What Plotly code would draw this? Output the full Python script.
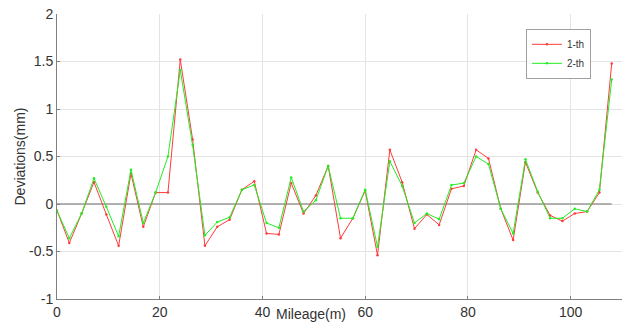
import plotly.graph_objects as go

mileage = [0, 2.4, 4.8, 7.2, 9.6, 12.0, 14.4, 16.8, 19.2, 21.6,
           24.0, 26.4, 28.8, 31.2, 33.6, 36.0, 38.4, 40.8, 43.2, 45.6,
           48.0, 50.4, 52.8, 55.2, 57.6, 60.0, 62.4, 64.8, 67.2, 69.6,
           72.0, 74.4, 76.8, 79.2, 81.6, 84.0, 86.4, 88.8, 91.2, 93.6,
           96.0, 98.4, 100.8, 103.2, 105.6, 108.0]

dev_1th = [-0.07, -0.41, -0.10, 0.23, -0.11, -0.44, 0.32, -0.24, 0.12, 0.12,
           1.52, 0.68, -0.44, -0.24, -0.165, 0.15, 0.24, -0.31, -0.32, 0.22,
           -0.10, 0.09, 0.40, -0.36, -0.15, 0.14, -0.54, 0.57, 0.23, -0.26,
           -0.11, -0.22, 0.16, 0.19, 0.57, 0.48, -0.05, -0.38, 0.44, 0.12,
           -0.12, -0.18, -0.10, -0.08, 0.12, 1.48]

dev_2th = [-0.07, -0.36, -0.10, 0.27, -0.03, -0.34, 0.36, -0.20, 0.12, 0.50,
           1.41, 0.62, -0.33, -0.19, -0.14, 0.15, 0.20, -0.20, -0.25, 0.28,
           -0.08, 0.04, 0.40, -0.15, -0.15, 0.15, -0.45, 0.45, 0.19, -0.20,
           -0.10, -0.16, 0.20, 0.22, 0.50, 0.42, -0.05, -0.31, 0.47, 0.13,
           -0.15, -0.15, -0.05, -0.08, 0.15, 1.31]

series_names = ["1-th", "2-th"]
x_ticks = [0, 20, 40, 60, 80, 100]
y_ticks = [-1, -0.5, 0, 0.5, 1, 1.5, 2]
y_tick_text = ["-1", "-0.5", "0", "0.5", "1", "1.5", "2"]

FONT = "Arial, Liberation Sans, sans-serif"

fig = go.Figure()

# zero reference line across the data span
fig.add_trace(go.Scatter(
    x=[mileage[0], mileage[-1]], y=[0, 0], mode="lines",
    line=dict(color="#9a9a9a", width=1.5), showlegend=False, hoverinfo="skip"))

fig.add_trace(go.Scatter(
    x=mileage, y=dev_1th, mode="lines+markers", name=series_names[0],
    line=dict(color="#ff3b3b", width=1),
    marker=dict(color="#ff3b3b", size=2.5)))

fig.add_trace(go.Scatter(
    x=mileage, y=dev_2th, mode="lines+markers", name=series_names[1],
    line=dict(color="#22ee22", width=1),
    marker=dict(color="#22ee22", size=2.5)))

fig.update_layout(
    width=622, height=324,
    margin=dict(l=57, r=0, t=14, b=25),
    paper_bgcolor="white", plot_bgcolor="white",
    font=dict(family=FONT, size=14, color="#333333"),
    showlegend=True,
    legend=dict(
        x=0.945, y=0.948, xanchor="right", yanchor="top",
        bgcolor="white", bordercolor="#a0a0a0", borderwidth=1,
        font=dict(size=10, color="#333333"),
        itemwidth=30, tracegroupgap=0,
    ),
    xaxis=dict(
        range=[0, 110], tickvals=x_ticks, ticktext=[str(v) for v in x_ticks],
        showgrid=True, gridcolor="#e4e4e4", gridwidth=1,
        zeroline=False, showline=True, linecolor="#808080", linewidth=1,
        ticks="inside", ticklen=3, tickcolor="#808080",
        tickfont=dict(size=14, color="#333333"),
    ),
    yaxis=dict(
        range=[-1, 2], tickvals=y_ticks, ticktext=y_tick_text,
        showgrid=True, gridcolor="#e4e4e4", gridwidth=1,
        zeroline=False, showline=True, linecolor="#808080", linewidth=1,
        ticks="inside", ticklen=3, tickcolor="#808080",
        tickfont=dict(size=14, color="#333333"),
        title=dict(text="Deviations(mm)", font=dict(size=14, color="#333333"), standoff=0),
    ),
    annotations=[dict(
        text="Mileage(m)", xref="paper", yref="paper",
        x=0.45, y=-0.086, xanchor="center", yanchor="bottom",
        showarrow=False, font=dict(size=14, color="#333333"),
    )],
)

fig.write_html("out.html")
